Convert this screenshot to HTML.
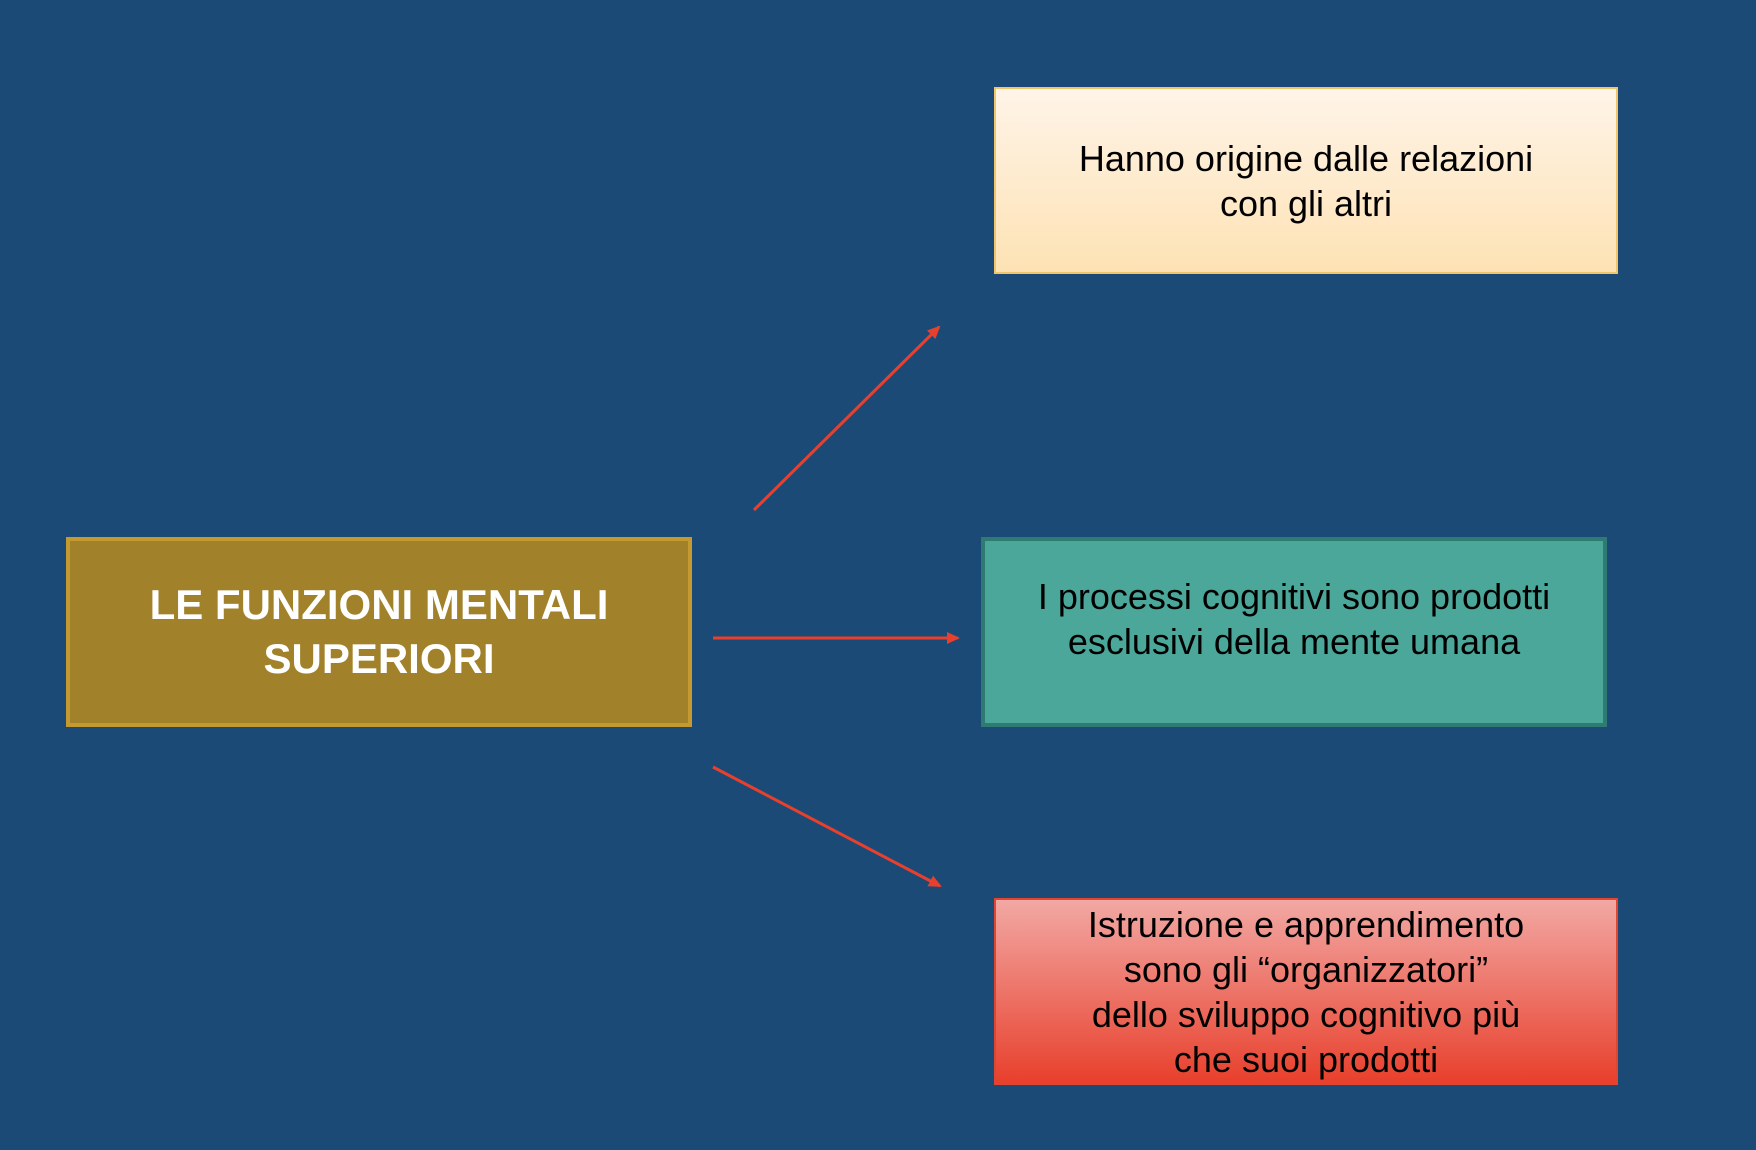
<!DOCTYPE html>
<html><head><meta charset="utf-8"><style>
body{margin:0;width:1756px;height:1150px;background:#1c4a77;position:relative;overflow:hidden;font-family:"Liberation Sans",sans-serif;}
.b{position:absolute;box-sizing:border-box;display:flex;align-items:center;justify-content:center;text-align:center;font-size:36px;line-height:45px;color:#000;}
</style></head><body>
<div class="b" style="left:66px;top:537px;width:626px;height:190px;background:#a1822a;border:4px solid #c49a30;color:#fff;font-weight:bold;font-size:42px;line-height:54px;padding-bottom:0px">LE FUNZIONI MENTALI<br>SUPERIORI</div>
<div class="b" style="left:994px;top:87px;width:624px;height:187px;background:linear-gradient(#fff4e8,#fde2b4);border:2px solid #f2c56a;padding-bottom:0px">Hanno origine dalle relazioni<br>con gli altri</div>
<div class="b" style="left:981px;top:537px;width:626px;height:190px;background:#4aa79a;border:4px solid #2f7a72;padding-bottom:26px">I processi cognitivi sono prodotti<br>esclusivi della mente umana</div>
<div class="b" style="left:994px;top:898px;width:624px;height:187px;background:linear-gradient(#f2a8a4,#e8402c);border:2px solid #e0452f">Istruzione e apprendimento<br>sono gli “organizzatori”<br>dello sviluppo cognitivo più<br>che suoi prodotti</div>
<svg width="1756" height="1150" style="position:absolute;left:0;top:0">
<defs><marker id="a" markerWidth="14" markerHeight="14" refX="11" refY="6" orient="auto" markerUnits="userSpaceOnUse"><path d="M0,0 L13,6 L0,12z" fill="#e8402c"/></marker></defs>
<g stroke="#e8402c" stroke-width="3" fill="none">
<line x1="754" y1="510" x2="939" y2="327" marker-end="url(#a)"/>
<line x1="713" y1="638" x2="958" y2="638" marker-end="url(#a)"/>
<line x1="713" y1="767" x2="940" y2="886" marker-end="url(#a)"/>
</g></svg>
</body></html>
